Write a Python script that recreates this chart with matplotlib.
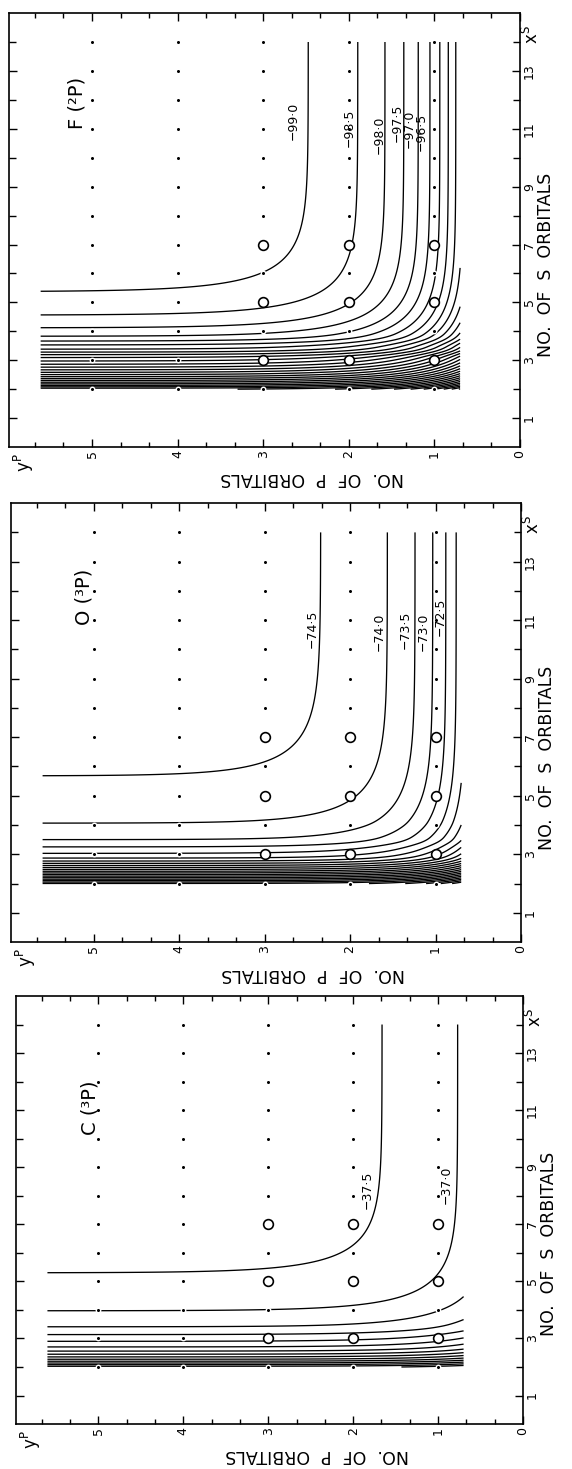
import numpy as np
import matplotlib.pyplot as plt
from matplotlib.ticker import MultipleLocator, FixedLocator

plt.rcParams['font.family'] = ['DejaVu Sans']

# basis sets computed (dots) and the ones marked with open circles
s_counts = list(range(2, 15))
p_counts = [1, 2, 3, 4, 5]
circ_s = [3, 5, 7]
circ_p = [1, 2, 3]

# energy contours (hartree): where each line meets the left edge (no. of S)
# and where it meets the top edge (no. of P) of the computed region
F_lim = -99.41
F_lev = [-99.0, -98.5, -98.0, -97.5, -97.0, -96.5, -96.0, -95.5, -95.0,
         -94.5, -94.0, -93.5, -93.0, -92.0, -91.0, -90.0, -89.0, -88.0]
F_left = [5.37, 4.56, 4.12, 3.82, 3.66, 3.54, 3.37, 3.28, 3.20,
          3.10, 2.97, 2.86, 2.76, 2.58, 2.43, 2.30, 2.18, 2.08]
F_top_lev = [-99.0, -98.5, -98.0, -97.5, -97.0, -96.5, -96.0, -95.5, -95.0]
F_top = [2.50, 1.87, 1.56, 1.33, 1.19, 1.08, 0.95, 0.84, 0.75]

O_lim = -74.68
O_lev = [-74.5, -74.0, -73.5, -73.0, -72.5, -72.0, -71.5, -71.0, -70.5, -70.0,
         -69.5, -69.0, -68.0, -67.0, -66.0, -65.5]
O_left = [5.68, 4.06, 3.49, 3.26, 3.03, 2.86, 2.77, 2.69, 2.62, 2.55,
          2.48, 2.42, 2.31, 2.20, 2.10, 2.05]
O_top_lev = [-74.5, -74.0, -73.5, -73.0, -72.5, -72.0]
O_top = [2.32, 1.59, 1.25, 1.07, 0.87, 0.72]

C_lim = -37.69
C_lev = [-37.5, -37.0, -36.5, -36.0, -35.5, -35.0, -34.5, -34.0, -33.5, -33.0, -32.5, -32.0, -31.5]
C_left = [5.30, 3.97, 3.40, 3.14, 2.90, 2.70, 2.55, 2.45, 2.35, 2.27, 2.20, 2.14, 2.08]
C_top_lev = [-37.5, -37.0]
C_top = [1.66, 0.77]

# labels written beside the lines
F_lab = ['−99·0', '−98·5', '−98·0', '−97·5', '−97·0', '−96·5']
O_lab = ['−74·5', '−74·0', '−73·5', '−73·0', '−72·5']
C_lab = ['−37·5', '−37·0']

panels = [
    dict(name='F (²P)', lim=F_lim, lev=F_lev, left=F_left, top_lev=F_top_lev, top=F_top, lab=F_lab,
         lab_pos=[(2.65, 11.26), (2.0, 11.03), (1.65, 10.8), (1.44, 11.2), (1.29, 11.0), (1.16, 10.9)],
         rect=[0.0157, 0.6957, 0.8934, 0.2954], title_pos=(5.18, 11.9)),
    dict(name='O (³P)', lim=O_lim, lev=O_lev, left=O_left, top_lev=O_top_lev, top=O_top, lab=O_lab,
         lab_pos=[(2.44, 10.7), (1.66, 10.6), (1.36, 10.67), (1.14, 10.6), (0.95, 11.1)],
         rect=[0.0192, 0.3587, 0.8916, 0.2988], title_pos=(5.12, 11.8)),
    dict(name='C (³P)', lim=C_lim, lev=C_lev, left=C_left, top_lev=C_top_lev, top=C_top, lab=C_lab,
         lab_pos=[(1.83, 8.2), (0.91, 8.4)],
         rect=[0.0280, 0.0306, 0.8864, 0.2914], title_pos=(5.1, 11.1)),
]

fig = plt.figure(figsize=(5.72, 14.69), dpi=100)

S = np.linspace(2, 14, 700)
P = np.linspace(0.7, 5.6, 700)


def s_part(s_read, y_read):
    # log of the S-dependent part, through the edge crossings, straight
    # continuation past the ends and a light smoothing of the corners
    order = np.argsort(s_read)
    sx = np.array(s_read)[order]
    sy = np.array(y_read)[order]
    out = np.interp(S, sx, sy)
    lo, hi = S < sx[0], S > sx[-1]
    out[lo] = sy[0] + (S[lo] - sx[0]) * (sy[1] - sy[0]) / (sx[1] - sx[0])
    out[hi] = sy[-1] + (S[hi] - sx[-1]) * (sy[-1] - sy[-2]) / (sx[-1] - sx[-2])
    w = 11
    pad = np.concatenate([2 * out[0] - out[w:0:-1], out, 2 * out[-1] - out[-2:-w - 2:-1]])
    return np.convolve(pad, np.ones(w) / w, mode='same')[w:-w]


for pan in panels:
    ax = fig.add_axes(pan['rect'])
    # the figure is printed turned: P runs right-to-left, S runs upward
    ax.set_xlim(5.97, 0)
    ax.set_ylim(0, 15)

    # energy surface E = limit + f(S) + g(P)
    lnf = s_part(pan['left'], np.log(np.array(pan['lev']) - pan['lim']))
    b1, b0 = np.polyfit(pan['top'], np.log(np.array(pan['top_lev']) - pan['lim']), 1)
    Z = pan['lim'] + np.exp(lnf)[:, None] + np.exp(b0 + b1 * P)[None, :]
    levels = np.arange(pan['lev'][0], Z.max(), 0.5)
    ax.contour(P, S, Z, levels=levels, colors='black', linewidths=0.95,
               linestyles='solid', zorder=2)

    for s in s_counts:
        for p in p_counts:
            if s in circ_s and p in circ_p:
                ax.plot(p, s, 'o', ms=7, mfc='white', mec='black', mew=1.2, zorder=4)
            else:
                ax.plot(p, s, 'o', ms=3.2, mfc='black', mec='white', mew=1.0, zorder=3)

    for txt, (lp, ls) in zip(pan['lab'], pan['lab_pos']):
        ax.text(lp, ls, txt, rotation=90, ha='center', va='center', fontsize=9, zorder=5)

    tp, ts = pan['title_pos']
    ax.text(tp, ts, pan['name'], rotation=90, ha='center', va='center', fontsize=14)

    # axes furniture
    ax.xaxis.set_major_locator(FixedLocator([0, 1, 2, 3, 4, 5]))
    ax.xaxis.set_minor_locator(MultipleLocator(1 / 3))
    ax.yaxis.set_major_locator(FixedLocator([1, 3, 5, 7, 9, 11, 13]))
    ax.yaxis.set_minor_locator(FixedLocator([2, 4, 6, 8, 10, 12, 14]))
    ax.tick_params(which='both', direction='in', top=True, right=True, left=True, bottom=True,
                   labelleft=False, labelright=True, width=1.0)
    ax.tick_params(which='major', length=6, labelsize=9, pad=2)
    ax.tick_params(which='minor', length=3.5)
    ax.tick_params(axis='y', which='minor', length=5)
    ax.tick_params(axis='x', labelrotation=90)
    ax.tick_params(axis='y', labelrotation=90)
    for lbl in ax.get_yticklabels():
        lbl.set_va('center')
    for sp in ax.spines.values():
        sp.set_linewidth(1.2)

    ax.text(-0.30, 6.3, 'NO.  OF  S  ORBITALS', rotation=90, ha='center', va='center',
            fontsize=12.5, clip_on=False)
    ax.text(2.43, -1.08, 'NO.  OF  P  ORBITALS', rotation=180, ha='center', va='center',
            fontsize=12.5, clip_on=False)
    ax.text(-0.14, 14.25, 'x$^{\\mathrm{S}}$', rotation=90, ha='center', va='center',
            fontsize=12, clip_on=False)
    ax.text(5.8, -0.55, 'y$^{\\mathrm{P}}$', rotation=90, ha='center', va='center',
            fontsize=12, clip_on=False)

fig.savefig('out.png', dpi=100)
